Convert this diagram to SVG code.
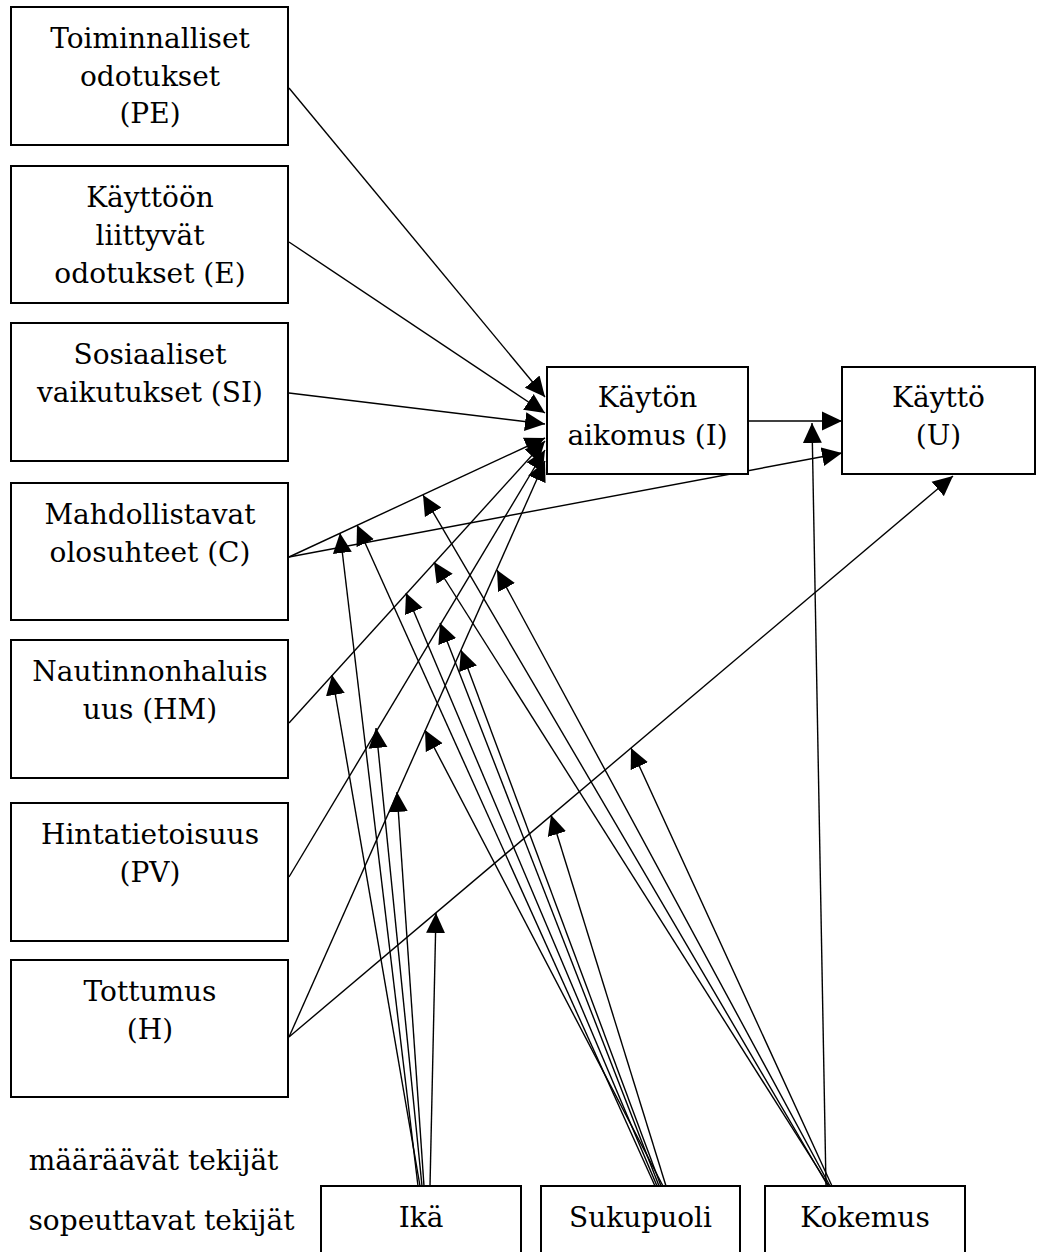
<svg xmlns="http://www.w3.org/2000/svg" width="1037" height="1252" viewBox="0 0 1037 1252">
<style>
.box{fill:#fff;stroke:#000;stroke-width:2}
.t{font-family:"DejaVu Serif","Liberation Serif",serif;font-size:28px;fill:#000;text-anchor:middle}
.c{fill:none;stroke:#000;stroke-width:1.4;marker-end:url(#ah)}
</style>
<defs>
<marker id="ah" markerUnits="userSpaceOnUse" markerWidth="20" markerHeight="20" viewBox="0 0 20 20" refX="20" refY="10" orient="auto">
<path d="M0,0.5 L20,10 L0,19.5 z" fill="#000"/>
</marker>
</defs>
<rect width="1037" height="1252" fill="#fff"/>
<g id="connectors">
<path class="c" d="M289,88 L545,397"/>
<path class="c" d="M289,242 L545,413"/>
<path class="c" d="M289,393 L545,424"/>
<path class="c" d="M289,557 L545,438"/>
<path class="c" d="M289,723 L545,441"/>
<path class="c" d="M289,877 L545,450"/>
<path class="c" d="M289,1037 L545,461"/>
<path class="c" d="M748,421 L842,421"/>
<path class="c" d="M289,557 L842,453"/>
<path class="c" d="M289,1037 L953,476"/>
<path class="c" d="M826,1186 L812,423"/>
<path class="c" d="M418,1186 L340,533"/>
<path class="c" d="M420,1186 L332,675"/>
<path class="c" d="M422,1186 L376,728"/>
<path class="c" d="M424,1186 L397,792"/>
<path class="c" d="M430,1186 L436,913"/>
<path class="c" d="M655,1186 L357,525"/>
<path class="c" d="M657,1186 L406,593"/>
<path class="c" d="M659,1186 L440,623"/>
<path class="c" d="M661,1186 L461,650"/>
<path class="c" d="M663,1186 L425,730"/>
<path class="c" d="M666,1186 L551,815"/>
<path class="c" d="M828,1186 L423,495"/>
<path class="c" d="M829,1186 L434,562"/>
<path class="c" d="M830,1186 L497,570"/>
<path class="c" d="M832,1186 L631,748"/>
</g>
<g id="node-PE"><rect class="box" x="11" y="7" width="277" height="138"/>
<text class="t" x="150" y="48">Toiminnalliset</text><text class="t" x="150" y="85.5">odotukset</text><text class="t" x="150" y="123">(PE)</text></g>
<g id="node-E"><rect class="box" x="11" y="166" width="277" height="137"/>
<text class="t" x="150" y="207">Käyttöön</text><text class="t" x="150" y="245">liittyvät</text><text class="t" x="150" y="283">odotukset (E)</text></g>
<g id="node-SI"><rect class="box" x="11" y="323" width="277" height="138"/>
<text class="t" x="150" y="364">Sosiaaliset</text><text class="t" x="150" y="402">vaikutukset (SI)</text></g>
<g id="node-C"><rect class="box" x="11" y="483" width="277" height="137"/>
<text class="t" x="150" y="524">Mahdollistavat</text><text class="t" x="150" y="562">olosuhteet (C)</text></g>
<g id="node-HM"><rect class="box" x="11" y="640" width="277" height="138"/>
<text class="t" x="150" y="681">Nautinnonhaluis</text><text class="t" x="150" y="719">uus (HM)</text></g>
<g id="node-PV"><rect class="box" x="11" y="803" width="277" height="138"/>
<text class="t" x="150" y="844">Hintatietoisuus</text><text class="t" x="150" y="882">(PV)</text></g>
<g id="node-H"><rect class="box" x="11" y="960" width="277" height="137"/>
<text class="t" x="150" y="1001">Tottumus</text><text class="t" x="150" y="1039">(H)</text></g>
<g id="node-I"><rect class="box" x="547" y="367" width="201" height="107"/>
<text class="t" x="647.5" y="407">Käytön</text><text class="t" x="647.5" y="445">aikomus (I)</text></g>
<g id="node-U"><rect class="box" x="842" y="367" width="193" height="107"/>
<text class="t" x="938.5" y="407">Käyttö</text><text class="t" x="938.5" y="445">(U)</text></g>
<g id="node-ika"><rect class="box" x="321" y="1186" width="200" height="90"/>
<text class="t" x="421" y="1227">Ikä</text></g>
<g id="node-sukupuoli"><rect class="box" x="541" y="1186" width="199" height="90"/>
<text class="t" x="640.5" y="1227">Sukupuoli</text></g>
<g id="node-kokemus"><rect class="box" x="765" y="1186" width="200" height="90"/>
<text class="t" x="865" y="1227">Kokemus</text></g>
<g id="labels">
<text class="t" x="153.5" y="1170">määräävät tekijät</text>
<text class="t" x="161.5" y="1230">sopeuttavat tekijät</text>
</g>
</svg>
